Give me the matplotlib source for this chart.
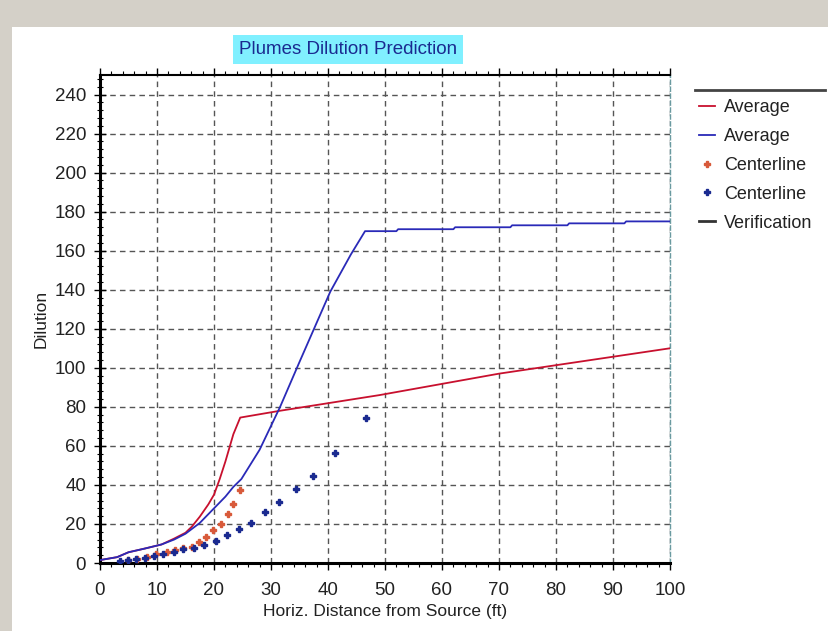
import matplotlib
matplotlib.use("Agg")
import matplotlib.pyplot as plt
from matplotlib.lines import Line2D
from matplotlib.patches import Rectangle
from matplotlib.ticker import MultipleLocator

# ---- data ----
red_avg_x = [0, 3, 5, 8, 10.8, 13, 15, 16.1, 17.5, 19, 20, 21, 22, 23.4, 24.6, 31.6, 49, 70, 100]
red_avg_y = [1.5, 3, 5.5, 7.5, 9.5, 12.5, 15.5, 18.6, 23.7, 30, 35, 43, 52, 66, 74.5, 78, 86, 97, 110]

blue_avg_x = [0, 3, 5, 8, 10.8, 13, 15, 17.5, 20, 22, 23.4, 24.8, 28, 31.6, 35, 40.4, 44, 46.5,
              52, 52.3, 62, 62.3, 72, 72.3, 82, 82.3, 92, 92.3, 100]
blue_avg_y = [1.5, 3, 5.5, 7.5, 9.5, 12, 15, 20.5, 28, 34, 39, 43, 58, 80, 103, 139, 158, 170,
              170, 171, 171, 172, 172, 173, 173, 174, 174, 175, 175]

red_cl_x = [5, 6.5, 8.2, 9.9, 11.7, 13.2, 14.6, 16.1, 17.4, 18.6, 19.9, 21.3, 22.4, 23.3, 24.6]
red_cl_y = [1.5, 2, 2.9, 4.8, 5.8, 6.8, 7.5, 8.4, 10.9, 13.5, 16.9, 19.8, 25, 30.3, 37.4]

blue_cl_x = [3.5, 4.9, 6.4, 7.9, 9.4, 11.1, 12.9, 14.6, 16.5, 18.2, 20.3, 22.3, 24.3, 26.5,
             28.9, 31.4, 34.3, 37.3, 41.2, 46.6]
blue_cl_y = [1.2, 1.6, 2, 2.4, 3.6, 4.6, 5.8, 7.2, 7.5, 9.2, 11.4, 14.4, 17.4, 20.7,
             26, 31.4, 37.8, 44.6, 56.2, 74.2]

x_ticks = list(range(0, 101, 10))
y_ticks = list(range(0, 241, 20))

title = "Plumes Dilution Prediction"
xlabel = "Horiz. Distance from Source (ft)"
ylabel = "Dilution"
legend_labels = ["Average", "Average", "Centerline", "Centerline", "Verification"]

plt.rcParams['font.family'] = ['Liberation Sans', 'DejaVu Sans']

fig = plt.figure(figsize=(8.29, 6.31), dpi=100)
fig.patch.set_facecolor('white')
# window chrome: gray band on top and left
fig.add_artist(Rectangle((0, 1 - 27 / 631), 1, 27 / 631, transform=fig.transFigure,
                         facecolor='#d4d0c8', edgecolor='none', zorder=0))
fig.add_artist(Rectangle((0, 0), 12 / 829, 1, transform=fig.transFigure,
                         facecolor='#d4d0c8', edgecolor='none', zorder=0))

ax = fig.add_axes([100 / 829, (631 - 563) / 631, 570 / 829, (563 - 75) / 631])
ax.set_xlim(0, 100)
ax.set_ylim(0, 250)
ax.set_xticks(x_ticks)
ax.set_yticks(y_ticks)
ax.xaxis.set_minor_locator(MultipleLocator(2))
ax.yaxis.set_minor_locator(MultipleLocator(4))
ax.tick_params(axis='both', which='major', labelsize=13.5, length=5, width=1, colors='black')
ax.tick_params(axis='x', which='major', pad=9)
ax.tick_params(axis='y', which='major', direction='inout', length=8, pad=6)
ax.tick_params(axis='both', which='minor', length=3, width=0.8)
ax.tick_params(axis='y', which='minor', direction='inout', length=5)
ax.tick_params(axis='x', which='both', top=True)
for lab in ax.get_xticklabels() + ax.get_yticklabels():
    lab.set_color('#222222')

ax.grid(True, which='major', linestyle=(0, (4, 3)), color='#555555', linewidth=1)
for s in ['left', 'bottom']:
    ax.spines[s].set_linewidth(2.2)
ax.spines['top'].set_linewidth(1.5)
ax.spines['right'].set_linewidth(1)
ax.spines['right'].set_linestyle((0, (3, 2)))
ax.spines['right'].set_color('#6a9aa0')

red_line = '#c8102e'
blue_line = '#2a2ab8'
red_dot = '#d85a3a'
blue_dot = '#1a2a90'

ax.plot(red_avg_x, red_avg_y, color=red_line, lw=1.3, zorder=3)
ax.plot(blue_avg_x, blue_avg_y, color=blue_line, lw=1.3, zorder=3)
ax.plot(red_cl_x, red_cl_y, linestyle='none', marker='P', ms=4.2, color=red_dot, zorder=4)
ax.plot(blue_cl_x, blue_cl_y, linestyle='none', marker='P', ms=4.2, color=blue_dot, zorder=4)

ax.set_xlabel(xlabel, fontsize=12.5, labelpad=3, color='#222222')
ax.set_ylabel(ylabel, fontsize=12.5, labelpad=4, color='#222222')

# title with cyan box
fig.text(348 / 829, 1 - 49.5 / 631, title, ha='center', va='center', fontsize=13.5,
         color='#1a2a90',
         bbox=dict(boxstyle='square,pad=0.3', facecolor='#80f0ff', edgecolor='none'))

# legend
handles = [Line2D([], [], color=red_line, lw=1.3),
           Line2D([], [], color=blue_line, lw=1.3),
           Line2D([], [], linestyle='none', marker='P', ms=4, color=red_dot),
           Line2D([], [], linestyle='none', marker='P', ms=4, color=blue_dot),
           Line2D([], [], color='#333333', lw=2)]
leg = fig.legend(handles, legend_labels, loc='upper left',
                 bbox_to_anchor=(699 / 829, 1 - 99 / 631), frameon=False,
                 fontsize=13, handlelength=0.9, handletextpad=0.5, labelspacing=0.66,
                 borderaxespad=0, borderpad=0)
for t in leg.get_texts():
    t.set_color('#222222')
fig.add_artist(Line2D([695 / 829, 825 / 829], [1 - 90 / 631, 1 - 90 / 631],
                      transform=fig.transFigure, color='#444444', lw=2))

fig.savefig('out.png', dpi=100)
